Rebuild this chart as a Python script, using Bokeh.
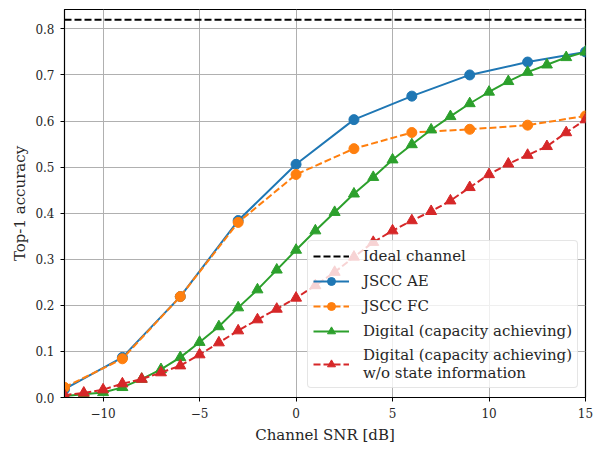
from bokeh.plotting import figure
from bokeh.models import Range1d, FixedTicker, Legend, LegendItem
from bokeh.embed import file_html
from bokeh.resources import INLINE

# ---- data ----
snr_jscc = [-12, -9, -6, -3, 0, 3, 6, 9, 12, 15]
acc_jscc_ae = [0.018, 0.087, 0.219, 0.384, 0.506, 0.603, 0.654, 0.700, 0.728, 0.750]
acc_jscc_fc = [0.022, 0.084, 0.219, 0.380, 0.484, 0.540, 0.575, 0.582, 0.591, 0.611]

snr_digital = [-12, -11, -10, -9, -8, -7, -6, -5, -4, -3, -2, -1, 0, 1, 2, 3, 4, 5,
               6, 7, 8, 9, 10, 11, 12, 13, 14, 15]
acc_digital = [0.003, 0.007, 0.011, 0.022, 0.040, 0.061, 0.087, 0.120, 0.154, 0.195,
               0.234, 0.277, 0.320, 0.362, 0.402, 0.442, 0.478, 0.516, 0.549, 0.581,
               0.610, 0.638, 0.663, 0.686, 0.706, 0.722, 0.738, 0.750]
acc_digital_nosi = [0.005, 0.010, 0.017, 0.030, 0.040, 0.054, 0.069, 0.093, 0.119, 0.145,
                    0.169, 0.192, 0.216, 0.243, 0.272, 0.305, 0.337, 0.362, 0.384, 0.404,
                    0.427, 0.456, 0.484, 0.507, 0.526, 0.545, 0.575, 0.603]

ideal_acc = 0.82

x_ticks = [-10, -5, 0, 5, 10, 15]
x_tick_labels = {-10: "\u221210", -5: "\u22125", 0: "0", 5: "5", 10: "10", 15: "15"}
y_ticks = [0.0, 0.1, 0.2, 0.3, 0.4, 0.5, 0.6, 0.7, 0.8]
y_tick_labels = {t: f"{t:.1f}" for t in y_ticks}

labels = ["Ideal channel", "JSCC AE", "JSCC FC", "Digital (capacity achieving)",
          "Digital (capacity achieving)\nw/o state information"]

C_BLUE, C_ORANGE, C_GREEN, C_RED = "#1f77b4", "#ff7f0e", "#2ca02c", "#d62728"
FONT = "DejaVu Serif"
TXT = "#262626"

x_min = min(snr_digital)
x_max = max(snr_digital)

p = figure(frame_width=521, frame_height=388, output_backend="svg", toolbar_location=None,
           x_range=Range1d(x_min, x_max), y_range=Range1d(0, 0.842),
           min_border_left=64, min_border_top=9, min_border_right=8, min_border_bottom=10)
p.background_fill_color = "white"
p.outline_line_color = "black"
p.outline_line_width = 1.2

for ax in (p.xaxis, p.yaxis):
    ax.major_label_text_font = FONT
    ax.major_label_text_font_size = "12px"
    ax.major_label_text_color = TXT
    ax.axis_label_text_font = FONT
    ax.axis_label_text_font_size = "15px"
    ax.axis_label_text_font_style = "normal"
    ax.axis_label_text_color = TXT
    ax.major_tick_in = 0
    ax.major_tick_out = 4
    ax.minor_tick_line_color = None
    ax.axis_line_color = "black"
    ax.major_tick_line_color = "black"

p.xaxis.ticker = FixedTicker(ticks=x_ticks)
p.xaxis.major_label_overrides = x_tick_labels
p.yaxis.ticker = FixedTicker(ticks=y_ticks)
p.yaxis.major_label_overrides = y_tick_labels
p.xaxis.axis_label = "Channel SNR [dB]"
p.yaxis.axis_label = "Top-1 accuracy"
p.xaxis.major_label_standoff = 6
p.xaxis.axis_label_standoff = 5
p.yaxis.major_label_standoff = 6
p.yaxis.axis_label_standoff = 3

p.xgrid.ticker = FixedTicker(ticks=x_ticks)
p.ygrid.ticker = FixedTicker(ticks=y_ticks)
for g in (p.xgrid, p.ygrid):
    g.grid_line_color = "#b0b0b0"
    g.grid_line_width = 1

DASH = "7 3"

r_ideal = p.line([x_min, x_max], [ideal_acc, ideal_acc], line_color="black",
                 line_width=2, line_dash=DASH)

r_ae_l = p.line(snr_jscc, acc_jscc_ae, line_color=C_BLUE, line_width=2)
r_ae_m = p.scatter(snr_jscc, acc_jscc_ae, marker="circle", size=10, fill_color=C_BLUE,
                   line_color=C_BLUE)

r_fc_l = p.line(snr_jscc, acc_jscc_fc, line_color=C_ORANGE, line_width=2, line_dash=DASH)
r_fc_m = p.scatter(snr_jscc, acc_jscc_fc, marker="circle", size=10, fill_color=C_ORANGE,
                   line_color=C_ORANGE)

r_dg_l = p.line(snr_digital, acc_digital, line_color=C_GREEN, line_width=2)
r_dg_m = p.scatter(snr_digital, acc_digital, marker="triangle", size=11, fill_color=C_GREEN,
                   line_color=C_GREEN)

r_dn_l = p.line(snr_digital, acc_digital_nosi, line_color=C_RED, line_width=2, line_dash=DASH)
r_dn_m = p.scatter(snr_digital, acc_digital_nosi, marker="triangle", size=11, fill_color=C_RED,
                   line_color=C_RED)

legend = Legend(items=[
    LegendItem(label=labels[0], renderers=[r_ideal]),
    LegendItem(label=labels[1], renderers=[r_ae_l, r_ae_m]),
    LegendItem(label=labels[2], renderers=[r_fc_l, r_fc_m]),
    LegendItem(label=labels[3], renderers=[r_dg_l, r_dg_m]),
    LegendItem(label=labels[4], renderers=[r_dn_l, r_dn_m]),
], location=(243, 9))
legend.label_text_font = FONT
legend.label_text_font_size = "15px"
legend.label_text_color = TXT
legend.label_text_line_height = 1.35
legend.glyph_width = 36
legend.glyph_height = 20
legend.label_standoff = 14
legend.spacing = 5
legend.padding = 5
legend.margin = 0
legend.border_line_color = "#cccccc"
legend.border_line_width = 1
legend.background_fill_color = "white"
legend.background_fill_alpha = 0.8
if "border_radius" in Legend.properties():
    legend.border_radius = 4
p.add_layout(legend, "center")

open("out.html", "w").write(file_html(p, INLINE))
